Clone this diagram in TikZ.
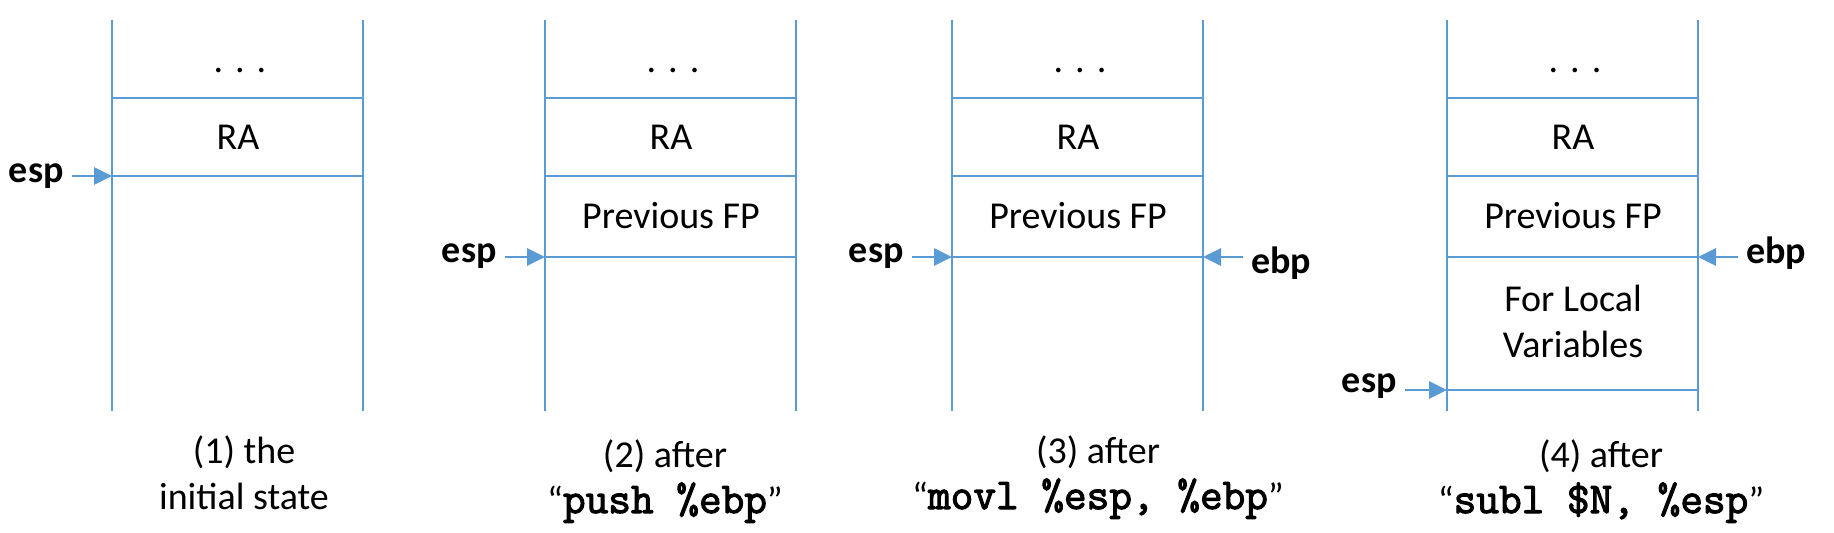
\documentclass[tikz,border=0pt]{standalone}
\usepackage{fontspec}
\setmainfont{Carlito}
\newfontfamily\codefont[FakeBold=2.5]{Latin Modern Mono}
\usetikzlibrary{arrows.meta, positioning, calc}
\definecolor{stackblue}{HTML}{5B9BD5}
\newcommand{\instr}[1]{“{\fontsize{22}{23}\selectfont\codefont #1}”}

\begin{document}
\begin{tikzpicture}[x=0.5pt, y=-0.5pt, font=\fontsize{19}{23}\selectfont,
    wall/.style={stackblue, line width=1.4pt},
    ptr/.style={font=\fontsize{19}{23}\selectfont\bfseries, inner sep=4pt},
    ptrarrow/.style={stackblue, line width=1.4pt,
      -{Triangle[length=9pt, width=8.5pt]}},
    caption/.style={align=center}]
  \useasboundingbox (0,0) rectangle (1834,533);
  % the four stacks, with the rows they all share
  \foreach \lx [count=\n] in {112, 545, 952, 1447}{%
    \draw[wall] (\lx,20) -- (\lx,411);
    \draw[wall] (\lx+251,20) -- (\lx+251,411);
    \draw[wall] (\lx,98) -- (\lx+251,98);
    \draw[wall] (\lx,176) -- (\lx+251,176);
    \node (dots\n) at (\lx+128,71) {.\hskip6pt.\hskip6pt.};
    \node (ra\n) at (\lx+126,137) {RA};}
  \foreach \lx [count=\n from 2] in {545, 952, 1447}{%
    \draw[wall] (\lx,257) -- (\lx+251,257);
    \node (fp\n) at (\lx+126,216) {Previous FP};}
  \draw[wall] (1447,390) -- (1698,390);
  \node[align=center] (locals4) at (1573,321) {For Local\\Variables};
  % stack and frame pointers
  \foreach \sx/\ty/\wx/\wy [count=\n] in
    {72/183/112/176, 505/263/545/257, 912/263/952/257, 1405/393/1447/390}{%
    \coordinate (sp\n) at (\wx,\wy);
    \node[ptr, anchor=base east] (esp\n) at (\sx,\ty) {esp};
    \draw[ptrarrow] (esp\n.east |- sp\n) -- (sp\n);}
  \foreach \sx/\ty/\wx [count=\n from 3] in {1243/274/1203, 1738/264/1698}{%
    \coordinate (bp\n) at (\wx,257);
    \node[ptr, anchor=base west] (ebp\n) at (\sx,\ty) {ebp};
    \draw[ptrarrow] (ebp\n.west |- bp\n) -- (bp\n);}
  % captions
  \node[caption] (cap1) at (244,473) {(1) the\\initial state};
  \node[caption] (cap2) at (665,481) {(2) after\\\instr{push \%ebp}};
  \node[caption] (cap3) at (1098,477) {(3) after\\\instr{movl \%esp, \%ebp}};
  \node[caption] (cap4) at (1601,481) {(4) after\\\instr{subl \$N, \%esp}};
\end{tikzpicture}
\end{document}
